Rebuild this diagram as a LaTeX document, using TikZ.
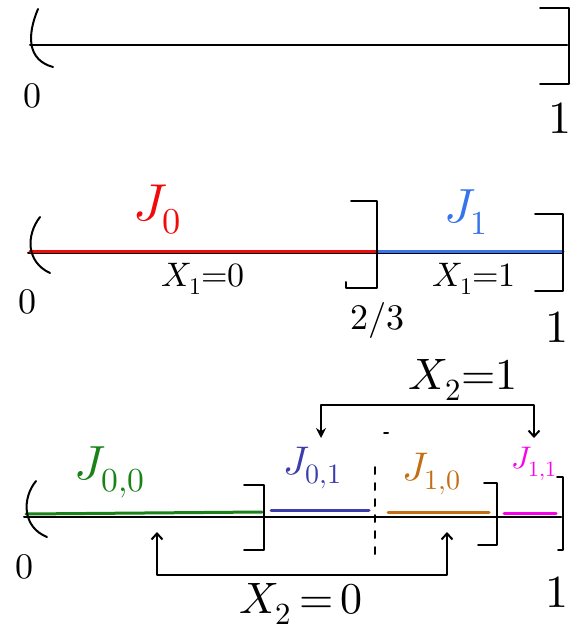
\documentclass[tikz,border=0pt]{standalone}
\usepackage{amsmath}
\usepackage{graphicx}
\usepackage{unicode-math}
\setmathfont{Latin Modern Math}
\usetikzlibrary{arrows.meta}
\definecolor{jred}{RGB}{240,10,10}
\definecolor{jblue}{RGB}{55,115,235}
\definecolor{jgreen}{RGB}{25,130,25}
\definecolor{jslate}{RGB}{60,60,170}
\definecolor{jorange}{RGB}{195,110,20}
\definecolor{jmagenta}{RGB}{250,0,235}
\newcommand{\fs}[1]{\fontsize{#1}{#1}\selectfont}
\newcommand{\shrink}[2]{\scalebox{#1}{#2}}

\begin{document}
\begin{tikzpicture}[x=1pt,y=-1pt,>=Stealth]
  \tikzset{
    ink/.style={line width=2pt,line cap=round,line join=round},
    seg/.style={line width=3pt,line cap=round},
    tag/.style={inner sep=0pt,outer sep=0pt,font=\fs{40}},
    gap/.style={ink,dash pattern=on 7pt off 9pt}
  }
  \useasboundingbox (0,0) rectangle (579,631);

  % the whole interval
  \begin{scope}
    \draw[ink] (30,45) -- (567,45);
    \draw[ink] (38,9) .. controls (27,35) and (27,60) .. (53,67);
    \draw[ink] (540,8) -- (569,8) -- (569,84) -- (540,84);
    \node[tag] (zeroA) at (32,96) {\shrink{0.9}{$0$}};
    \node[tag,font=\fs{46}] (oneA) at (560,118) {$1$};
  \end{scope}

  % first split
  \begin{scope}
    \draw[ink] (28,253) -- (563,253);
    \draw[seg,jred] (30,251) -- (377,251);
    \draw[seg,jblue] (377,251) -- (563,251);
    \draw[ink] (40,217) .. controls (26,235) and (26,262) .. (50,273);
    \draw[ink] (351,201) -- (377,201) -- (377,288) -- (346,288) -- (346,282);
    \draw[ink] (535,214) -- (563,214) -- (563,291) -- (535,291);
    \node[tag,text=jred,font=\fs{52}] (J0) at (157,210) {$J_0$};
    \node[tag,text=jblue,font=\fs{48}] (J1) at (466,212) {$J_1$};
    \node[tag] (X1a) at (203,279) {\shrink{0.85}{$X_1{=}0$}};
    \node[tag] (X1b) at (474,279) {\shrink{0.85}{$X_1{=}1$}};
    \node[tag] (zeroB) at (27,302) {\shrink{0.9}{$0$}};
    \node[tag] (twothirds) at (377,320) {\shrink{0.9}{$2/3$}};
    \node[tag,font=\fs{46}] (oneB) at (557,327) {$1$};
  \end{scope}

  % second split
  \begin{scope}
    \draw[ink] (24,517) -- (561,517);
    \draw[seg,jgreen] (26,514) -- (262,512);
    \draw[seg,jslate] (271,510) -- (369,510);
    \draw[seg,jorange] (388,512) -- (489,512);
    \draw[seg,jmagenta] (504,513) -- (556,513);
    \draw[ink] (36,481) .. controls (22,498) and (22,527) .. (47,537);
    \draw[ink] (244,485) -- (264,485) -- (264,550) -- (244,550);
    \draw[ink] (484,483) -- (497,483) -- (497,545) -- (478,545);
    \draw[ink] (557,477) -- (563,477) -- (563,550) -- (558,550);
    \draw[gap] (375,467) -- (375,560);
    \draw[ink] (384,433) -- (388,433);
    \node[tag,text=jgreen,font=\fs{48}] (J00) at (110,472) {$J_{0,0}$};
    \node[tag,text=jslate] (J01) at (313,468) {$J_{0,1}$};
    \node[tag,text=jorange] (J10) at (432,474) {$J_{1,0}$};
    \node[tag,text=jmagenta] (J11) at (534,464) {\shrink{0.78}{$J_{1,1}$}};
    \node[tag] (zeroC) at (25,567) {\shrink{0.9}{$0$}};
    \node[tag,font=\fs{46}] (oneC) at (557,592) {$1$};

    % which pieces go to X_2=1
    \node[tag,font=\fs{44}] (X2b) at (463,380) {$X_2{=}1$};
    \coordinate (tipA) at (321,438);
    \coordinate (tipB) at (534,438);
    \draw[ink,{Stealth[length=10pt,width=10pt]}-{Straight Barb[length=6pt,width=11pt]}]
      (tipA) -- ++(0,-33) -| (tipB);

    % which pieces go to X_2=0
    \node[tag,font=\fs{44}] (X2a) at (301,604) {$X_2\,{=}\,0$};
    \coordinate (tipC) at (157,532);
    \coordinate (tipD) at (447,532);
    \draw[ink,{Straight Barb[length=6pt,width=11pt]}-{Straight Barb[length=6pt,width=11pt]}]
      (tipC) -- ++(0,43) -| (tipD);
  \end{scope}
\end{tikzpicture}
\end{document}
